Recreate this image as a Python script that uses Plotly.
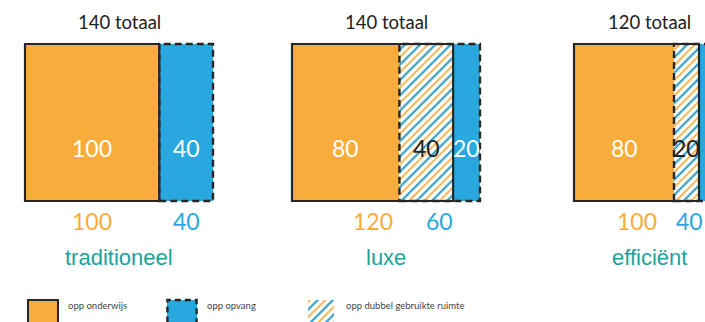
import plotly.graph_objects as go

# ---------------- data ----------------
scenarios = ["traditioneel", "luxe", "efficiënt"]
onderwijs = [100, 120, 100]      # opp onderwijs (incl. dubbel gebruik)
opvang = [40, 60, 40]            # opp opvang (incl. dubbel gebruik)
dubbel = [0, 40, 20]             # opp dubbel gebruikte ruimte
totaal = [140, 140, 120]
legend_labels = ["opp onderwijs", "opp opvang", "opp dubbel gebruikte ruimte"]

# ---------------- styles ----------------
W, H = 705, 322
ORANGE = "#F8AC3B"
BLUE = "#29A8E0"
TEAL = "#1BA39B"
DARK = "#222222"
EDGE = "#262626"
FONT_NUM = "Lato"
FONT_CAT = "Liberation Sans"
DASH = "7px,4px"
HATCH_S = 5.4          # pattern size (orange lines); blue uses double size

# panel layout (pixel geometry of the schematic)
panel_left_px = [25, 292, 574]
panel_px_per_unit = [188 / 140, 188 / 140, 150 / 120]
box_top_px, box_bot_px = 44, 201
pad_u = 3

only_ond = [o - d for o, d in zip(onderwijs, dubbel)]
only_opv = [o - d for o, d in zip(opvang, dubbel)]

fig = go.Figure()
layout_axes = {}
shapes = []
annotations = []

ypad = 0.03
ppu_y = box_bot_px - box_top_px
y_dom = [(H - (box_bot_px + ypad * ppu_y)) / H, (H - (box_top_px - ypad * ppu_y)) / H]


def hatch_traces(x, base, y, width, xa, ya, orientation):
    common = dict(orientation=orientation, width=width, xaxis=xa, yaxis=ya, showlegend=False, hoverinfo="skip")
    if orientation == "h":
        common.update(x=x, y=y)
    else:
        common.update(x=x, y=y)
    t1 = go.Bar(base=base, marker=dict(color="white", line=dict(width=0),
                                       pattern=dict(shape="/", fgcolor=ORANGE, bgcolor="white",
                                                    size=HATCH_S, solidity=0.33, fillmode="replace")), **common)
    t2 = go.Bar(base=base, marker=dict(color="rgba(0,0,0,0)", line=dict(width=0),
                                       pattern=dict(shape="/", fgcolor=BLUE, bgcolor="rgba(0,0,0,0)",
                                                    size=2 * HATCH_S, solidity=0.19, fillmode="replace")), **common)
    return [t1, t2]


for i, name in enumerate(scenarios):
    k = "" if i == 0 else str(i + 1)
    xa, ya = "x" + k, "y" + k
    left, s = panel_left_px[i], panel_px_per_unit[i]
    xmax = min(totaal[i] + pad_u, (W - left) / s)
    dom = [(left - pad_u * s) / W, min(1.0, (left + xmax * s) / W)]
    layout_axes["xaxis" + k] = dict(domain=dom, range=[-pad_u, xmax], visible=False,
                                    anchor=ya, fixedrange=True)
    layout_axes["yaxis" + k] = dict(domain=y_dom, range=[-ypad, 1 + ypad], visible=False,
                                    anchor=xa, fixedrange=True)

    common = dict(orientation="h", y=[0.5], width=1, xaxis=xa, yaxis=ya,
                  showlegend=False, hoverinfo="skip")
    fig.add_trace(go.Bar(x=[only_ond[i]], base=[0], marker=dict(color=ORANGE, line=dict(width=0)), **common))
    if dubbel[i] > 0:
        for t in hatch_traces([dubbel[i]], [only_ond[i]], [0.5], 1, xa, ya, "h"):
            fig.add_trace(t)
    fig.add_trace(go.Bar(x=[only_opv[i]], base=[onderwijs[i]], marker=dict(color=BLUE, line=dict(width=0)), **common))

    shapes.append(dict(type="rect", xref=xa, yref=ya, x0=0, x1=onderwijs[i], y0=0, y1=1,
                       line=dict(color=EDGE, width=2.2), fillcolor="rgba(0,0,0,0)"))
    shapes.append(dict(type="rect", xref=xa, yref=ya, x0=only_ond[i], x1=totaal[i], y0=0, y1=1,
                       line=dict(color=EDGE, width=2.4, dash=DASH), fillcolor="rgba(0,0,0,0)"))

    segs = [(only_ond[i] / 2, only_ond[i], "white"),
            (only_ond[i] + dubbel[i] / 2, dubbel[i], DARK),
            (onderwijs[i] + only_opv[i] / 2, only_opv[i], "white")]
    for cx, v, col in segs:
        if v > 0:
            annotations.append(dict(xref=xa, yref=ya, x=cx, y=0.34, text=str(v), showarrow=False,
                                    font=dict(family=FONT_NUM, size=23, color=col)))
    annotations.append(dict(xref=xa, yref=ya, x=onderwijs[i] / 2, y=0, yshift=-20, text=str(onderwijs[i]),
                            showarrow=False, yanchor="middle", font=dict(family=FONT_NUM, size=23, color=ORANGE)))
    # opvang total: keep inside the frame when the box runs off the edge
    cx = only_ond[i] + opvang[i] / 2
    if left + cx * s + 13 > W:
        opv = dict(x=xmax, xanchor="right")
    else:
        opv = dict(x=cx, xanchor="center")
    annotations.append(dict(xref=xa, yref=ya, y=0, yshift=-20, text=str(opvang[i]), showarrow=False,
                            yanchor="middle", font=dict(family=FONT_NUM, size=23, color=BLUE), **opv))
    annotations.append(dict(xref=xa, yref=ya, x=totaal[i] / 2, y=1, yshift=22, text=f"{totaal[i]} totaal",
                            showarrow=False, yanchor="middle", font=dict(family=FONT_NUM, size=18.5, color=DARK)))
    annotations.append(dict(xref=xa, yref=ya, x=totaal[i] / 2, y=0, yshift=-56, text=name,
                            showarrow=False, yanchor="middle", font=dict(family=FONT_CAT, size=22, color=TEAL)))

# ---------------- legend row ----------------
leg_spacing_px, leg_first_px, leg_w = 139, 43, 0.21
r0 = -leg_first_px / leg_spacing_px
r1 = 2.5
layout_axes["xaxis4"] = dict(domain=[0, (r1 - r0) * leg_spacing_px / W], range=[r0, r1], visible=False,
                             anchor="y4", fixedrange=True)
layout_axes["yaxis4"] = dict(domain=[0, 25 / H], range=[0.12, 1.12], visible=False, anchor="x4", fixedrange=True)
leg_idx = list(range(len(legend_labels)))
lc = dict(xaxis="x4", yaxis="y4", width=leg_w, showlegend=False, hoverinfo="skip")
fig.add_trace(go.Bar(x=[leg_idx[0]], y=[1], base=[0], marker=dict(color=ORANGE, line=dict(color=EDGE, width=2)), **lc))
fig.add_trace(go.Bar(x=[leg_idx[1]], y=[1], base=[0], marker=dict(color=BLUE, line=dict(width=0)), **lc))
for t in hatch_traces([leg_idx[2]], [0], [1], leg_w * 0.9, "x4", "y4", "v"):
    fig.add_trace(t)
shapes.append(dict(type="rect", xref="x4", yref="y4", x0=leg_idx[1] - leg_w / 2, x1=leg_idx[1] + leg_w / 2,
                   y0=0, y1=1, line=dict(color=EDGE, width=2.4, dash="6px,4px"), fillcolor="rgba(0,0,0,0)"))
for j, lab in enumerate(legend_labels):
    annotations.append(dict(xref="x4", yref="y4", x=leg_idx[j], y=1, xshift=leg_w / 2 * leg_spacing_px + 8,
                            yshift=-5, xanchor="left", yanchor="middle", text=lab, showarrow=False,
                            font=dict(family=FONT_NUM, size=9.5, color="#444444")))

fig.update_layout(
    width=W, height=H, margin=dict(l=0, r=0, t=0, b=0),
    paper_bgcolor="white", plot_bgcolor="rgba(0,0,0,0)",
    barmode="overlay", bargap=0, showlegend=False,
    shapes=shapes, annotations=annotations,
    **layout_axes,
)

fig.write_html("out.html", config={"displayModeBar": False})
